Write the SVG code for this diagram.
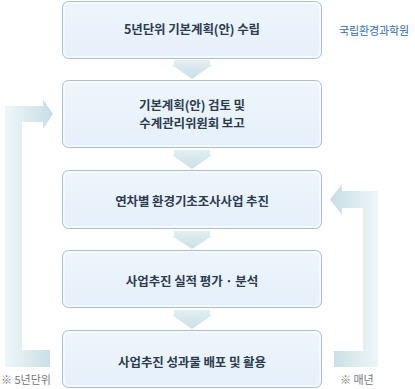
<svg xmlns="http://www.w3.org/2000/svg" width="415" height="389" viewBox="0 0 415 389">
<defs>
<linearGradient id="boxg" x1="0" y1="0" x2="0" y2="1">
<stop offset="0" stop-color="#eef5fc"/>
<stop offset="1" stop-color="#e6f0fa"/>
</linearGradient>
<linearGradient id="downg" x1="0" y1="0" x2="0" y2="1">
<stop offset="0" stop-color="#e2eef2"/>
<stop offset="1" stop-color="#c9dfe6"/>
</linearGradient>
<linearGradient id="leftg" gradientUnits="userSpaceOnUse" x1="5" y1="0" x2="53" y2="0">
<stop offset="0" stop-color="#eff6f8"/>
<stop offset="1" stop-color="#c6dee5"/>
</linearGradient>
<linearGradient id="rightg" gradientUnits="userSpaceOnUse" x1="330" y1="0" x2="378" y2="0">
<stop offset="0" stop-color="#c6dee5"/>
<stop offset="1" stop-color="#eff6f8"/>
</linearGradient>
<style>
.box{fill:url(#boxg);stroke:#a6c0d8;stroke-width:1}
.inner{fill:none;stroke:#ffffff;stroke-opacity:0.7;stroke-width:1.5}
.t{font-family:"Noto Sans CJK KR","Noto Sans",sans-serif;font-weight:bold;font-size:12.5px;fill:#2c3c50;text-anchor:middle;letter-spacing:-0.1px}
.note{font-family:"Noto Sans CJK KR","Noto Sans",sans-serif;font-size:11px;fill:#777777}
.org{font-family:"Noto Sans CJK KR","Noto Sans",sans-serif;font-size:11px;fill:#2b6db0;letter-spacing:-0.1px}
.down{fill:url(#downg)}
</style>
</defs>
<g id="connectors">
<path class="down" d="M174,60 H210 V65 H212 L192,79 L172,65 H174 Z"/>
<path class="down" d="M174,150 H210 V155 H212 L192,169 L172,155 H174 Z"/>
<path class="down" d="M174,231 H210 V236 H212 L192,249 L172,236 H174 Z"/>
<path class="down" d="M174,310 H210 V315 H212 L192,329 L172,315 H174 Z"/>
<path id="loop-5yr" fill="url(#leftg)" d="M5,106 H43 V99 L53,114 L43,129 V122 H22 V350 H50 V367 H5 Z"/>
<path id="loop-yearly" fill="url(#rightg)" d="M378,191 H342 V184 L330,199.5 L342,215 V208 H363 V351 H334 V367 H378 Z"/>
</g>
<g id="node1">
<rect class="box" x="62.5" y="1.5" width="259" height="57" rx="6"/>
<rect class="inner" x="64" y="3" width="256" height="54" rx="5"/>
<text class="t" x="192" y="34">5년단위 기본계획(안) 수립</text>
</g>
<g id="node2">
<rect class="box" x="62.5" y="80.5" width="259" height="67" rx="6"/>
<rect class="inner" x="64" y="82" width="256" height="64" rx="5"/>
<text class="t" x="192" y="110">기본계획(안) 검토 및</text>
<text class="t" x="192" y="128">수계관리위원회 보고</text>
</g>
<g id="node3">
<rect class="box" x="62.5" y="170.5" width="259" height="58" rx="6"/>
<rect class="inner" x="64" y="172" width="256" height="55" rx="5"/>
<text class="t" x="192" y="206">연차별 환경기초조사사업 추진</text>
</g>
<g id="node4">
<rect class="box" x="62.5" y="250.5" width="259" height="57" rx="6"/>
<rect class="inner" x="64" y="252" width="256" height="54" rx="5"/>
<text class="t" x="192" y="286">사업추진 실적 평가 · 분석</text>
</g>
<g id="node5">
<rect class="box" x="62.5" y="330.5" width="259" height="57" rx="6"/>
<rect class="inner" x="64" y="332" width="256" height="54" rx="5"/>
<text class="t" x="192" y="367">사업추진 성과물 배포 및 활용</text>
</g>
<g id="labels">
<text class="org" x="339" y="35">국립환경과학원</text>
<text class="note" x="1" y="384">※ 5년단위</text>
<text class="note" x="340" y="384">※ 매년</text>
</g>
</svg>
